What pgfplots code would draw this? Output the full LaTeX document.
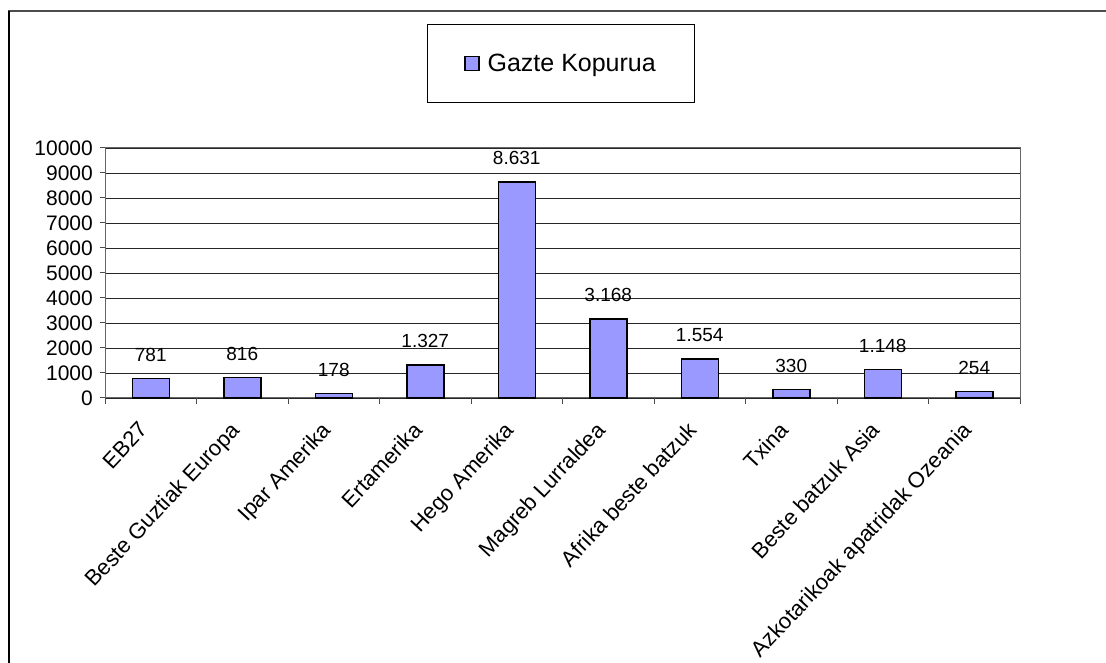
\documentclass[border=0pt]{standalone}
\usepackage{pgfplots}
\pgfplotsset{compat=1.18}
\usepackage{fontspec}
\setmainfont{Liberation Sans}
\definecolor{barblue}{HTML}{9999FF}
\begin{document}
\begin{tikzpicture}[x=1pt,y=1pt]
\useasboundingbox (0,0) rectangle (1106,663);
\draw[line width=2pt, black!70] (8,652) -- (1106,652);
\draw[line width=1.5pt, black] (8.75,652) -- (8.75,0);
\begin{axis}[
  at={(105pt,265pt)}, anchor=south west,
  scale only axis, width=915pt, height=250pt,
  xmin=-0.5, xmax=9.5, ymin=0, ymax=10000,
  ybar, bar width=37pt,
  axis line style={black!60, line width=1pt},
  ytick={0,1000,...,10000},
  scaled y ticks=false,
  xtick={0,...,9},
  xticklabels={EB27, Beste Guztiak Europa, Ipar Amerika, Ertamerika, Hego Amerika, Magreb Lurraldea, Afrika beste batzuk, Txina, Beste batzuk Asia, Azkotarikoak apatridak Ozeania},
  major x tick style={draw=none},
  minor xtick={-0.5,0.5,...,9.5},
  minor x tick style={black!70, line width=1pt},
  minor tick length=6pt,
  major tick length=5pt,
  y tick style={black!70, line width=1pt},
  tick align=outside, tick pos=left,
  ymajorgrids, grid style={black!85, line width=0.9pt},
  /pgf/number format/assume math mode=true,
  /pgf/number format/1000 sep={},
  yticklabel style={font=\fontsize{21}{21}\selectfont, inner sep=3pt, xshift=-4pt},
  xticklabel style={font=\fontsize{22}{22}\selectfont, rotate=47, anchor=north east, inner sep=1pt, xshift=-20.5pt, yshift=-1pt},
  point meta=explicit symbolic,
  nodes near coords={\pgfplotspointmeta},
  nodes near coords style={font=\fontsize{19}{19}\selectfont, yshift=13pt},
  legend style={at={(0.4985,1.338)}, anchor=center, draw=black, line width=1pt,
    inner xsep=37pt, inner ysep=28pt, font=\fontsize{25}{25}\selectfont,
    /tikz/every odd column/.append style={column sep=6pt}},
  legend image code/.code={\draw[fill=barblue, draw=black, line width=1.2pt] (0pt,-7pt) rectangle (14pt,7pt);},
  clip=false,
]
\addplot[fill=barblue, draw=black, line width=1.5pt] coordinates {
  (0,781) [781]
  (1,816) [816]
  (2,178) [178]
  (3,1327) [1.327]
  (4,8631) [8.631]
  (5,3168) [3.168]
  (6,1554) [1.554]
  (7,330) [330]
  (8,1148) [1.148]
  (9,254) [254]
};
\addlegendentry{Gazte Kopurua}
\end{axis}
\end{tikzpicture}
\end{document}
